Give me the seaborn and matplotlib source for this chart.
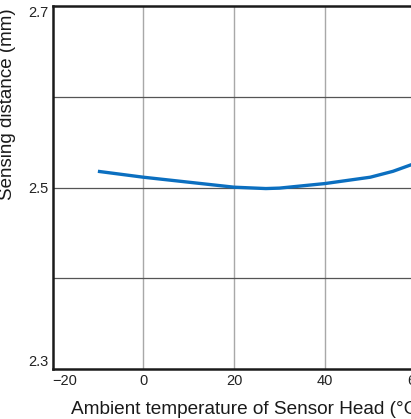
import matplotlib
matplotlib.use("Agg")
import matplotlib.pyplot as plt
import seaborn as sns
import pandas as pd

temperature_c = [-10, 0, 10, 20, 27, 30, 40, 50, 55, 60]
sensing_mm = [2.518, 2.5115, 2.506, 2.5005, 2.499, 2.4995, 2.5045, 2.5115, 2.518, 2.527]
x_ticks = [-20, 0, 20, 40, 60]
y_major = [2.3, 2.5, 2.7]
y_minor = [2.4, 2.6]

sns.set_style("white")
plt.rcParams["font.family"] = ["Liberation Sans", "DejaVu Sans"]

W, H = 411, 419
fig = plt.figure(figsize=(W / 100, H / 100), dpi=100)
left = 52.5 / W
bottom = (H - 369.3) / H
top = (H - 6) / H
width = 454 / W
ax = fig.add_axes([left, bottom, width, top - bottom])

df = pd.DataFrame({"t": temperature_c, "d": sensing_mm})
sns.lineplot(data=df, x="t", y="d", ax=ax, color="#0b6fc0", linewidth=2.4,
             solid_capstyle="butt", zorder=5)

ax.set_xlim(-20, 80)
ax.set_ylim(2.3, 2.7)
ax.set_xticks(x_ticks)
ax.set_xticklabels(["\u221220" if v < 0 else str(v) for v in x_ticks])
ax.set_yticks(y_major)
ax.set_yticks(y_minor, minor=True)
ax.set_yticklabels([f"{v:.1f}" for v in y_major])

ax.tick_params(axis="both", which="both", length=0, labelsize=10.5, colors="#222222")
ax.tick_params(axis="x", pad=3.5)
ax.tick_params(axis="y", pad=3)

ylabs = ax.get_yticklabels()
ylabs[0].set_va("bottom")
ylabs[-1].set_va("top")
xlabs = ax.get_xticklabels()
xlabs[0].set_ha("left")

ax.grid(False)
for v in x_ticks[1:]:
    ax.axvline(v, color="#a8a8a8", linewidth=1.0, zorder=1)
for v in [2.4, 2.5, 2.6]:
    ax.axhline(v, color="#555555", linewidth=0.9, zorder=1)

for s in ["left", "bottom", "top"]:
    ax.spines[s].set_color("#1a1a1a")
    ax.spines[s].set_linewidth(1.8)
ax.spines["right"].set_visible(False)

ax.set_xlabel("")
ax.set_ylabel("")
fig.text(70.5 / W, (H - 414) / H, "Ambient temperature of Sensor Head (\u00b0C)",
         ha="left", va="baseline", fontsize=13.7, color="#1a1a1a")
fig.text(16 / W, (H - 200) / H, "Sensing distance (mm)", rotation=90,
         ha="right", va="bottom", fontsize=13.5, color="#1a1a1a")

fig.savefig("out.png", dpi=100)
